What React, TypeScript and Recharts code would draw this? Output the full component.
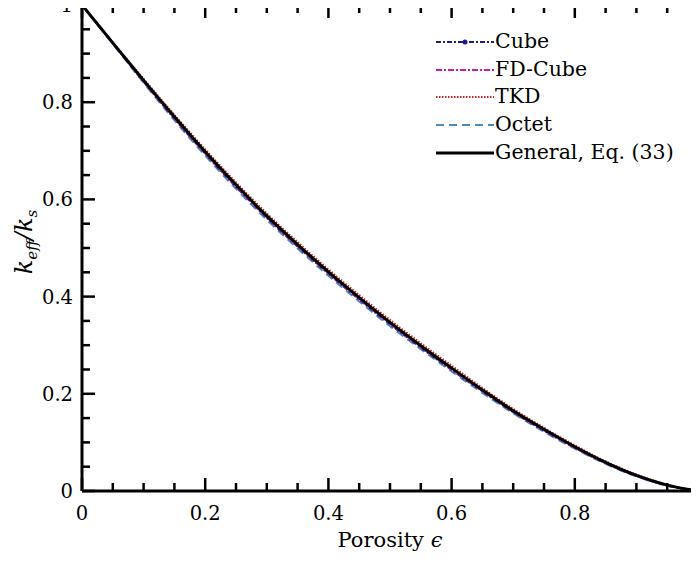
import React from 'react';
import { LineChart, Line, XAxis, YAxis } from 'recharts';

// porosity samples and the five curves
const porosity = [0, 0.05, 0.1, 0.15, 0.2, 0.25, 0.3, 0.35, 0.4, 0.45, 0.5, 0.55, 0.6, 0.65, 0.7, 0.75, 0.8, 0.85, 0.9, 0.95, 1];
const general = [1.0, 0.922, 0.845, 0.770, 0.698, 0.630, 0.566, 0.507, 0.451, 0.398, 0.347, 0.299, 0.253, 0.208, 0.165, 0.127, 0.091, 0.059, 0.032, 0.012, 0.0];
const tkd = [1.0, 0.923, 0.848, 0.774, 0.703, 0.635, 0.571, 0.512, 0.456, 0.403, 0.352, 0.304, 0.258, 0.212, 0.169, 0.130, 0.094, 0.061, 0.034, 0.013, 0.0];
const cube = [1.0, 0.921, 0.842, 0.766, 0.694, 0.626, 0.562, 0.503, 0.447, 0.394, 0.343, 0.295, 0.249, 0.205, 0.162, 0.124, 0.089, 0.057, 0.031, 0.011, 0.0];
const fdCube = [1.0, 0.921, 0.843, 0.767, 0.695, 0.627, 0.563, 0.504, 0.448, 0.395, 0.344, 0.296, 0.250, 0.206, 0.163, 0.125, 0.089, 0.058, 0.031, 0.012, 0.0];
const octet = [1.0, 0.920, 0.840, 0.763, 0.690, 0.622, 0.558, 0.499, 0.443, 0.390, 0.339, 0.292, 0.246, 0.202, 0.160, 0.122, 0.087, 0.056, 0.030, 0.011, 0.0];

const xTicks = [0, 0.05, 0.1, 0.15, 0.2, 0.25, 0.3, 0.35, 0.4, 0.45, 0.5, 0.55, 0.6, 0.65, 0.7, 0.75, 0.8, 0.85, 0.9, 0.95, 1];
const yTicks = [0, 0.05, 0.1, 0.15, 0.2, 0.25, 0.3, 0.35, 0.4, 0.45, 0.5, 0.55, 0.6, 0.65, 0.7, 0.75, 0.8, 0.85, 0.9, 0.95, 1];

const data = porosity.map((e, i) => ({
  e,
  general: general[i],
  cube: cube[i],
  fdCube: fdCube[i],
  tkd: tkd[i],
  octet: octet[i],
}));

const FONT = '"DejaVu Serif", serif';
const MAJOR = 13;
const MINOR = 8;

const isMajor = (v: number) => Math.abs(v * 5 - Math.round(v * 5)) < 1e-6;
const fmt = (v: number) => (v === 0 ? '0' : v === 1 ? '1' : v.toFixed(1));

const BottomTick = (props: any) => {
  const { x, y, payload } = props;
  const major = isMajor(payload.value);
  return (
    <g>
      <line x1={x} x2={x} y1={y} y2={y - (major ? MAJOR : MINOR)} stroke="#000" strokeWidth={2.5} />
      {major && (
        <text x={x} y={y + 29} textAnchor="middle" fontFamily={FONT} fontSize={19.5} fill="#000">
          {fmt(payload.value)}
        </text>
      )}
    </g>
  );
};

const TopTick = (props: any) => {
  const { x, y, payload } = props;
  const major = isMajor(payload.value);
  return <line x1={x} x2={x} y1={y} y2={y + (major ? MAJOR : MINOR)} stroke="#000" strokeWidth={2.5} />;
};

const LeftTick = (props: any) => {
  const { x, y, payload } = props;
  const major = isMajor(payload.value);
  return (
    <g>
      <line x1={x} x2={x + (major ? MAJOR : MINOR)} y1={y} y2={y} stroke="#000" strokeWidth={2.5} />
      {major && (
        <text x={x - 9} y={y + 7} textAnchor="end" fontFamily={FONT} fontSize={19.5} fill="#000">
          {fmt(payload.value)}
        </text>
      )}
    </g>
  );
};

const RightTick = (props: any) => {
  const { x, y, payload } = props;
  const major = isMajor(payload.value);
  return <line x1={x} x2={x - (major ? MAJOR : MINOR)} y1={y} y2={y} stroke="#000" strokeWidth={2.5} />;
};

const legendItems = [
  { name: 'Cube', color: '#1c1c8c', dash: '5 2 2 2', width: 2, marker: true },
  { name: 'FD-Cube', color: '#c81ca8', dash: '6 2 2 2', width: 2, marker: false },
  { name: 'TKD', color: '#c82020', dash: '1.5 1.5', width: 2, marker: false },
  { name: 'Octet', color: '#4a8cc0', dash: '8 5', width: 1.8, marker: false },
  { name: 'General, Eq. (33)', color: '#000', dash: undefined, width: 3, marker: false },
];

const Legend = () => (
  <div style={{ position: 'absolute', left: 436, top: 28, fontFamily: FONT, fontSize: 20.5, lineHeight: '27.7px' }}>
    {legendItems.map((it) => (
      <div key={it.name} style={{ display: 'flex', alignItems: 'center', height: 27.7 }}>
        <svg width={58} height={10} style={{ marginRight: 1 }}>
          <line x1={0} x2={58} y1={5} y2={5} stroke={it.color} strokeWidth={it.width} strokeDasharray={it.dash} />
          {it.marker && <circle cx={29} cy={5} r={2.5} fill={it.color} />}
        </svg>
        <span>{it.name}</span>
      </div>
    ))}
  </div>
);

const axisLine = { stroke: '#000', strokeWidth: 3 };

export default function App() {
  return (
    <div style={{ position: 'relative', width: 699, height: 564, margin: '-8px 0 0 -8px', background: '#fff' }}>
      <LineChart width={699} height={564} data={data} margin={{ top: 4, right: 0, bottom: 72, left: 81 }}>
        <XAxis
          dataKey="e"
          type="number"
          domain={[0, 1]}
          ticks={xTicks}
          interval={0}
          height={1}
          tickSize={0}
          tickMargin={0}
          axisLine={axisLine}
          tickLine={false}
          tick={<BottomTick />}
        />
        <XAxis
          xAxisId="top"
          orientation="top"
          dataKey="e"
          type="number"
          domain={[0, 1]}
          ticks={xTicks}
          interval={0}
          height={1}
          tickSize={0}
          tickMargin={0}
          axisLine={axisLine}
          tickLine={false}
          tick={<TopTick />}
        />
        <YAxis
          type="number"
          domain={[0, 1]}
          ticks={yTicks}
          interval={0}
          width={1}
          tickSize={0}
          tickMargin={0}
          axisLine={axisLine}
          tickLine={false}
          tick={<LeftTick />}
        />
        <YAxis
          yAxisId="right"
          orientation="right"
          type="number"
          domain={[0, 1]}
          ticks={yTicks}
          interval={0}
          width={1}
          tickSize={0}
          tickMargin={0}
          axisLine={axisLine}
          tickLine={false}
          tick={<RightTick />}
        />
        <Line dataKey="octet" type="monotone" stroke="#4a8cc0" strokeWidth={2} strokeDasharray="8 5" dot={false} isAnimationActive={false} />
        <Line dataKey="cube" type="monotone" stroke="#1c1c8c" strokeWidth={2} strokeDasharray="5 2 2 2" dot={false} isAnimationActive={false} />
        <Line dataKey="fdCube" type="monotone" stroke="#c81ca8" strokeWidth={2} strokeDasharray="6 2 2 2" dot={false} isAnimationActive={false} />
        <Line dataKey="tkd" type="monotone" stroke="#c82020" strokeWidth={2} strokeDasharray="1.5 1.5" dot={false} isAnimationActive={false} />
        <Line dataKey="general" type="monotone" stroke="#000" strokeWidth={3} dot={false} isAnimationActive={false} />
        <text x={390} y={547} textAnchor="middle" fontFamily={FONT} fontSize={21} fill="#000">
          Porosity <tspan fontStyle="italic">ϵ</tspan>
        </text>
        <text transform="translate(32, 242) rotate(-90)" textAnchor="middle" fontFamily={FONT} fontSize={24} fontStyle="italic" fill="#000">
          k<tspan fontSize={15} dy={5}>eff</tspan>
          <tspan dy={-5}>/k</tspan>
          <tspan fontSize={15} dy={5}>s</tspan>
        </text>
      </LineChart>
      <Legend />
    </div>
  );
}
